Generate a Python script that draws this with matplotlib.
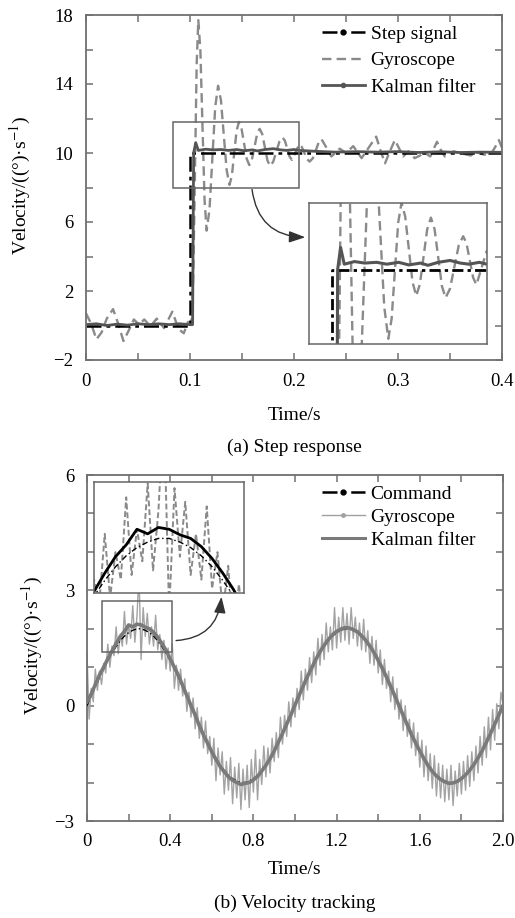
import matplotlib
matplotlib.use('Agg')
import matplotlib.pyplot as plt
from matplotlib.lines import Line2D
from matplotlib.patches import Rectangle, FancyArrowPatch
import numpy as np

plt.rcParams['font.family'] = ['Liberation Serif', 'DejaVu Serif']
plt.rcParams['mathtext.fontset'] = 'stix'

# ---------------- (a) Step response data ----------------
step_t = [0.0, 0.1, 0.1, 0.4]
step_v = [0.0, 0.0, 10.0, 10.0]

gyro_a_t = [0.000, 0.005, 0.010, 0.015, 0.020, 0.026, 0.031, 0.036, 0.041, 0.046,
            0.051, 0.056, 0.062, 0.068, 0.075, 0.083, 0.089, 0.094, 0.098, 0.1015,
            0.1031, 0.1048, 0.1064, 0.108, 0.110, 0.112, 0.114, 0.116, 0.11875, 0.1215,
            0.12425, 0.127, 0.12975, 0.1325, 0.13525, 0.138, 0.14025, 0.1425, 0.14475, 0.147,
            0.1495, 0.152, 0.1545, 0.157, 0.1595, 0.162, 0.1645, 0.167, 0.1695, 0.172,
            0.1745, 0.177, 0.180, 0.183, 0.186, 0.189, 0.19125, 0.1935, 0.19575, 0.198,
            0.2015, 0.205, 0.2075, 0.210, 0.2125, 0.215, 0.218, 0.221, 0.2237, 0.2265,
            0.2313, 0.236, 0.244, 0.250, 0.257, 0.265, 0.270, 0.2745, 0.279, 0.283,
            0.2875, 0.292, 0.297, 0.305, 0.310, 0.316, 0.326, 0.331, 0.334, 0.3375,
            0.341, 0.345, 0.3535, 0.360, 0.370, 0.375, 0.383, 0.390, 0.3935, 0.397, 0.400]
gyro_a_v = [0.7, 0.1, -0.8, -0.4, 0.4, 0.95, 0.1, -0.9, -0.3, 0.35,
            0.05, 0.35, -0.05, 0.4, -0.15, 0.8, -0.2, -0.45, 0.2, 0.2,
            2.76, 8.95, 15.15, 17.7, 15.92, 11.6, 7.28, 5.5, 6.73, 9.7,
            12.67, 13.9, 13.06, 11.03, 9.0, 8.15, 8.68, 9.98, 11.27, 11.8,
            11.43, 10.55, 9.67, 9.3, 9.61, 10.35, 11.09, 11.4, 11.09, 10.33,
            9.56, 9.25, 9.49, 10.08, 10.66, 10.9, 10.71, 10.25, 9.79, 9.6,
            10.05, 10.5, 10.35, 10.0, 9.65, 9.5, 9.69, 10.15, 10.61, 10.8,
            10.3, 9.8, 10.25, 10.0, 10.4, 9.7, 10.15, 10.55, 10.95, 10.18,
            9.4, 10.07, 10.75, 9.8, 10.1, 9.7, 10.0, 9.8, 10.2, 10.65,
            10.2, 9.8, 10.1, 10.0, 9.85, 10.05, 9.9, 10.0, 10.35, 10.75, 10.3]

kalman_a_t = [0.0, 0.01, 0.02, 0.03, 0.04, 0.05, 0.06, 0.07, 0.08, 0.09, 0.1, 0.1025,
              0.1035, 0.1055, 0.108, 0.115, 0.122, 0.13, 0.137, 0.145, 0.152, 0.16,
              0.165, 0.172, 0.18, 0.187, 0.193, 0.2, 0.205, 0.22, 0.24, 0.26, 0.28,
              0.30, 0.32, 0.34, 0.36, 0.38, 0.40]
kalman_a_v = [0.05, 0.1, 0.0, 0.08, 0.02, 0.1, 0.05, 0.1, 0.05, 0.1, 0.05, 0.05,
              10.0, 10.6, 10.15, 10.22, 10.18, 10.2, 10.15, 10.2, 10.13, 10.18,
              10.12, 10.2, 10.25, 10.18, 10.15, 10.2, 10.15, 10.1, 10.05, 10.08, 10.05,
              10.08, 10.03, 10.07, 10.03, 10.05, 10.04]

# ---------------- (b) Velocity tracking data ----------------
cmd_b_t = np.linspace(0, 2.0, 101)
cmd_b_v = [0.00, 0.25, 0.50, 0.74, 0.96, 1.18, 1.37, 1.54, 1.69, 1.81,
           1.90, 1.96, 2.00, 2.00, 1.96, 1.90, 1.81, 1.69, 1.54, 1.37,
           1.18, 0.96, 0.74, 0.50, 0.25, 0.00, -0.25, -0.50, -0.74, -0.96,
           -1.18, -1.37, -1.54, -1.69, -1.81, -1.90, -1.96, -2.00, -2.00, -1.96,
           -1.90, -1.81, -1.69, -1.54, -1.37, -1.18, -0.96, -0.74, -0.50, -0.25,
           0.00, 0.25, 0.50, 0.74, 0.96, 1.18, 1.37, 1.54, 1.69, 1.81,
           1.90, 1.96, 2.00, 2.00, 1.96, 1.90, 1.81, 1.69, 1.54, 1.37,
           1.18, 0.96, 0.74, 0.50, 0.25, 0.00, -0.25, -0.50, -0.74, -0.96,
           -1.18, -1.37, -1.54, -1.69, -1.81, -1.90, -1.96, -2.00, -2.00, -1.96,
           -1.90, -1.81, -1.69, -1.54, -1.37, -1.18, -0.96, -0.74, -0.50, -0.25,
           0.00]

gyro_b_t = np.linspace(0, 2.0, 201)
gyro_b_v = [1.40, -0.35, 0.45, 0.10, 0.95, 0.40, 0.90, 0.55, 1.10, 0.85,
            1.60, 1.00, 1.55, 1.30, 2.05, 1.35, 1.85, 1.55, 2.45, 1.60,
            2.10, 1.75, 2.60, 1.65, 2.30, 3.40, 1.20, 2.55, 1.80, 2.40,
            1.60, 2.05, 1.55, 2.35, 1.45, 1.85, 1.20, 1.70, 0.95, 1.50,
            0.90, 1.60, 0.45, 1.05, 0.40, 0.95, 0.25, 0.70, -0.15, 0.35,
            -0.30, 0.20, -0.60, -0.05, -0.85, -0.30, -1.10, -0.40, -1.25, -0.80,
            -1.55, -0.85, -1.95, -1.10, -1.80, -1.20, -2.30, -1.45, -2.20, -1.35,
            -2.55, -1.60, -2.40, -1.50, -2.70, -1.65, -2.45, -1.55, -2.65, -1.40,
            -2.25, -1.15, -2.45, -1.40, -2.05, -1.05, -1.85, -1.10, -1.75, -0.85,
            -1.45, -0.70, -1.35, -0.30, -1.00, -0.25, -0.80, 0.10, -0.55, 0.20,
            -0.30, 0.45, -0.10, 0.90, 0.15, 0.95, 0.40, 1.25, 0.60, 1.40,
            0.80, 1.75, 1.05, 1.85, 1.20, 2.15, 1.40, 2.05, 1.45, 2.55,
            1.50, 2.30, 1.65, 2.55, 1.70, 2.40, 1.60, 2.55, 1.75, 2.30,
            1.55, 2.15, 1.45, 2.25, 1.40, 1.95, 1.10, 1.80, 1.05, 1.70,
            0.85, 1.45, 0.55, 1.20, 0.45, 0.90, 0.10, 0.75, -0.10, 0.45,
            -0.35, 0.15, -0.65, 0.00, -0.80, -0.35, -1.10, -0.45, -1.30, -0.70,
            -1.60, -0.90, -1.85, -1.05, -1.95, -1.25, -2.15, -1.30, -2.35, -1.50,
            -2.40, -1.55, -2.50, -1.65, -2.45, -1.55, -2.60, -1.70, -2.35, -1.50,
            -2.30, -1.45, -2.20, -1.30, -2.10, -1.20, -1.95, -1.05, -1.75, -0.80,
            -1.55, -0.55, -1.35, -0.30, -1.15, -0.10, -0.90, 0.05, -0.60, 0.35,
            0.05]

kalman_b_t = np.linspace(0, 2.0, 101)
kalman_b_v = [0.10, 0.30, 0.55, 0.80, 1.00, 1.22, 1.42, 1.62, 1.80, 1.93,
              2.10, 2.05, 2.12, 2.10, 2.04, 2.00, 1.91, 1.78, 1.62, 1.44,
              1.22, 1.00, 0.78, 0.52, 0.26, 0.00, -0.24, -0.52, -0.76, -0.98,
              -1.20, -1.40, -1.58, -1.72, -1.85, -1.94, -2.00, -2.05, -2.02, -2.00,
              -1.93, -1.84, -1.70, -1.55, -1.38, -1.18, -0.95, -0.72, -0.48, -0.24,
              0.02, 0.27, 0.52, 0.76, 0.98, 1.20, 1.40, 1.57, 1.72, 1.84,
              1.93, 1.99, 2.03, 2.02, 1.98, 1.92, 1.82, 1.70, 1.55, 1.38,
              1.18, 0.97, 0.74, 0.50, 0.25, 0.00, -0.25, -0.50, -0.75, -0.97,
              -1.18, -1.38, -1.56, -1.71, -1.83, -1.92, -1.98, -2.02, -2.01, -1.97,
              -1.90, -1.80, -1.68, -1.53, -1.36, -1.17, -0.95, -0.72, -0.48, -0.24,
              0.00]

W, H = 515, 918
fig = plt.figure(figsize=(W / 100, H / 100), dpi=100)


def fx(px):
    return px / W


def fy(py):
    return 1 - py / H


SPINE = '#707070'
FS_TICK = 13.5
FS_LAB = 14


def style_axes(ax):
    for s in ax.spines.values():
        s.set_color(SPINE)
        s.set_linewidth(1.3)
    ax.tick_params(which='both', direction='in', top=True, right=True,
                   length=5, width=1.1, color=SPINE, labelsize=FS_TICK)
    ax.tick_params(axis='x', which='major', pad=9)
    ax.tick_params(axis='y', which='major', pad=9)


# ---------------- top axes ----------------
axa = fig.add_axes([fx(86), fy(360), 416 / W, 345 / H])
style_axes(axa)
axa.plot(gyro_a_t, gyro_a_v, color='#8a8a8a', lw=1.7, dashes=(4, 2.2))
axa.plot(step_t, step_v, color='black', lw=1.8, dashes=(6, 2, 1.5, 2))
axa.plot(kalman_a_t, kalman_a_v, color='#555555', lw=2.0)
axa.set_xlim(0, 0.4)
axa.set_ylim(-2, 18)
axa.set_xticks([0, 0.1, 0.2, 0.3, 0.4])
axa.set_xticklabels(['0', '0.1', '0.2', '0.3', '0.4'])
axa.set_xticks([0.05, 0.15, 0.25, 0.35], minor=True)
axa.set_yticks([-2, 2, 6, 10, 14, 18])
axa.set_yticks([0, 4, 8, 12, 16], minor=True)
axa.add_patch(Rectangle((0.084, 8.0), 0.121, 3.8, fill=False,
                        edgecolor='#666666', lw=1.1, zorder=5))

hA = [Line2D([], [], color='black', lw=1.8, dashes=(6, 2, 1.5, 2), marker='o', markersize=3.5),
      Line2D([], [], color='#8a8a8a', lw=1.7, dashes=(4, 2.2)),
      Line2D([], [], color='#555555', lw=2.0, marker='o', markersize=3)]
axa.legend(hA, ['Step signal', 'Gyroscope', 'Kalman filter'], loc='upper left',
           bbox_to_anchor=((322 - 86) / 416, 1 - 10 / 345), frameon=False,
           fontsize=FS_LAB, borderpad=0, borderaxespad=0, handlelength=2.2,
           handletextpad=0.3, labelspacing=0.47, numpoints=1)

fig.text(fx(294), fy(415), 'Time/s', ha='center', va='center', fontsize=FS_LAB)
fig.text(fx(294), fy(447), '(a) Step response', ha='center', va='center', fontsize=FS_LAB)
fig.text(fx(20), fy(185), 'Velocity/((°)·s$^{-1}$)', rotation=90,
         ha='center', va='center', fontsize=FS_LAB)

# top inset
ina = fig.add_axes([fx(309), fy(344.3), 177.7 / W, 141.6 / H])
for s in ina.spines.values():
    s.set_color('#666666')
    s.set_linewidth(1.1)
ina.set_xticks([])
ina.set_yticks([])
ina.plot(gyro_a_t, gyro_a_v, color='#8a8a8a', lw=1.7, dashes=(4, 2.2))
ina.plot(step_t, step_v, color='black', lw=2.0, dashes=(4, 1.5, 1.2, 1.5))
ina.plot(kalman_a_t, kalman_a_v, color='#555555', lw=2.2)
ina.set_xlim(0.084, 0.205)
ina.set_ylim(8.0, 11.8)

fig.add_artist(FancyArrowPatch((fx(251.7), fy(186.7)), (fx(308), fy(237.3)),
                               transform=fig.transFigure,
                               connectionstyle='arc3,rad=0.45',
                               arrowstyle='-|>,head_length=0.7,head_width=0.25',
                               mutation_scale=14, color='#333333', lw=1.0))

# ---------------- bottom axes ----------------
axb = fig.add_axes([fx(87), fy(821), 416 / W, 346 / H])
style_axes(axb)
axb.plot(gyro_b_t, gyro_b_v, color='#a3a3a3', lw=1.0, zorder=2)
axb.plot(cmd_b_t, cmd_b_v, color='black', lw=1.0, dashes=(4, 2, 1, 2), zorder=3)
axb.plot(kalman_b_t, kalman_b_v, color='#7a7a7a', lw=2.6, zorder=4)
axb.set_xlim(0, 2.0)
axb.set_ylim(-3, 6)
axb.set_xticks([0, 0.4, 0.8, 1.2, 1.6, 2.0])
axb.set_xticklabels(['0', '0.4', '0.8', '1.2', '1.6', '2.0'])
axb.set_xticks([0.2, 0.6, 1.0, 1.4, 1.8], minor=True)
axb.set_yticks([-3, 0, 3, 6])
axb.set_yticks([-2, -1, 1, 2, 4, 5], minor=True)
axb.add_patch(Rectangle((0.07, 1.39), 0.34, 1.34, fill=False,
                        edgecolor='#666666', lw=1.1, zorder=6))

hB = [Line2D([], [], color='black', lw=1.8, dashes=(6, 2, 1.5, 2), marker='o', markersize=3.5),
      Line2D([], [], color='#a0a0a0', lw=1.0, marker='o', markersize=2.5),
      Line2D([], [], color='#7a7a7a', lw=2.2)]
axb.legend(hB, ['Command', 'Gyroscope', 'Kalman filter'], loc='upper left',
           bbox_to_anchor=((322 - 87) / 416, 1 - 10 / 346), frameon=False,
           fontsize=FS_LAB, borderpad=0, borderaxespad=0, handlelength=2.2,
           handletextpad=0.3, labelspacing=0.29, numpoints=1)

fig.text(fx(295), fy(870), 'Time/s', ha='center', va='center', fontsize=FS_LAB)
fig.text(fx(295), fy(903), '(b) Velocity tracking', ha='center', va='center', fontsize=FS_LAB)
fig.text(fx(32), fy(645), 'Velocity/((°)·s$^{-1}$)', rotation=90,
         ha='center', va='center', fontsize=FS_LAB)

# bottom inset
inb = fig.add_axes([fx(94), fy(593.3), 150.3 / W, 111.6 / H])
for s in inb.spines.values():
    s.set_color('#666666')
    s.set_linewidth(1.1)
inb.set_xticks([])
inb.set_yticks([])
inb.plot(gyro_b_t, gyro_b_v, color='#8a8a8a', lw=1.4, dashes=(3, 1.5))
inb.plot(cmd_b_t, cmd_b_v, color='black', lw=1.0, dashes=(4, 2, 1, 2))
inb.plot(kalman_b_t, kalman_b_v, color='black', lw=2.0)
inb.set_xlim(0.12, 0.40)
inb.set_ylim(1.4, 2.62)

fig.add_artist(FancyArrowPatch((fx(173.3), fy(640.7)), (fx(221.7), fy(594)),
                               transform=fig.transFigure,
                               connectionstyle='arc3,rad=0.45',
                               arrowstyle='-|>,head_length=0.7,head_width=0.25',
                               mutation_scale=14, color='#333333', lw=1.0))

fig.savefig('out.png', dpi=100)
